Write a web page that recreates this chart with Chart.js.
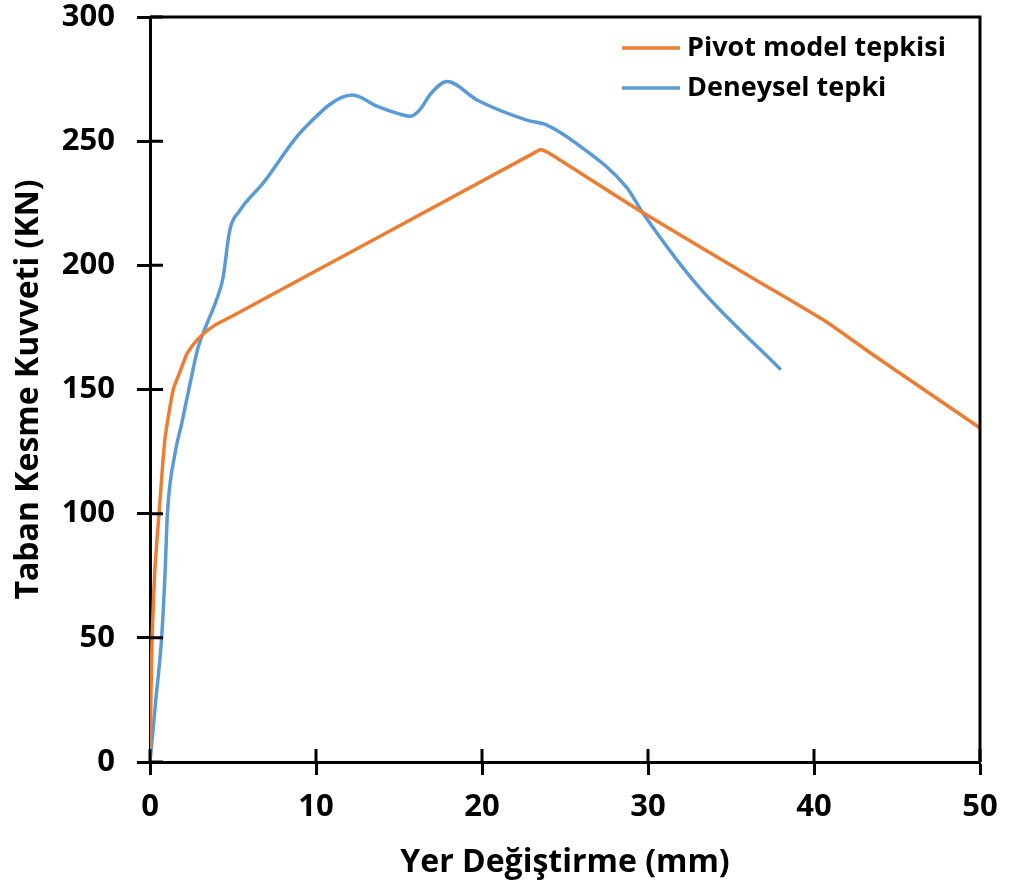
<!DOCTYPE html>
<html>
<head>
<meta charset="utf-8">
<script src="https://cdn.jsdelivr.net/npm/chart.js@4/dist/chart.umd.min.js"></script>
<style>
    html, body { margin: 0; padding: 0; background: #fff; }
    #wrap { width: 1009px; height: 895px; }
</style>
</head>
<body>
<div id="wrap"><canvas id="chart" width="1009" height="895"></canvas></div>
<script>
// Pivot model tepkisi
const pivotX = [0, 0.05, 0.13, 0.3, 0.6, 0.9, 1.4, 1.8, 2.2, 2.6, 3.0, 3.6, 4.2, 4.8, 23.2, 23.5, 23.8, 24.2, 29.5, 36.7, 40.8, 43.4, 50];
const pivotY = [0, 25, 50, 78, 105, 130, 150, 157, 164, 168, 171, 174.5, 177, 179, 245.5, 246.5, 246, 244.5, 222, 193.3, 177, 164.7, 134.5];

// Deneysel tepki
const testX = [0, 0.35, 0.7, 0.9, 1.05, 1.5, 1.9, 2.4, 2.9, 3.4, 4.0, 4.4, 4.8, 5.4, 6.8, 9.2, 12.2, 13.7, 15.0, 15.7, 16.3, 16.9, 17.9, 19.7, 22.7, 23.9, 25.7, 28.7, 29.7, 33.1, 38.0];
const testY = [0, 25, 50, 75, 100, 124, 136, 152, 167, 176, 186, 195, 214, 222, 233, 254.5, 268.6, 264, 261, 260, 263, 269, 274, 266.6, 258.5, 256.5, 249, 231.5, 221, 191, 158];

const xTicks = [0, 10, 20, 30, 40, 50];
const yTicks = [0, 50, 100, 150, 200, 250, 300];

const FONT = "'Open Sans', 'DejaVu Sans', sans-serif";

function toPoints(xs, ys) {
    return xs.map((x, i) => ({ x: x, y: ys[i] }));
}

// box around the plot + inner halves of the tick marks + legend
const framePlugin = {
    id: 'frame',
    afterDraw(chart) {
        const { ctx, chartArea: a, scales } = chart;
        ctx.save();
        ctx.strokeStyle = '#000';
        ctx.lineWidth = 3;
        ctx.beginPath();
        ctx.moveTo(a.left, a.top);
        ctx.lineTo(a.right, a.top);
        ctx.lineTo(a.right, a.bottom);
        ctx.stroke();

        ctx.beginPath();
        yTicks.forEach(v => {
            const y = scales.y.getPixelForValue(v);
            ctx.moveTo(a.left, y);
            ctx.lineTo(a.left + 13, y);
        });
        xTicks.forEach(v => {
            const x = scales.x.getPixelForValue(v);
            ctx.moveTo(x, a.bottom);
            ctx.lineTo(x, a.bottom - 13);
        });
        ctx.stroke();

        // legend
        ctx.font = "bold 27px " + FONT;
        ctx.textBaseline = 'middle';
        ctx.fillStyle = '#000';
        chart.data.datasets.forEach((ds, i) => {
            const y = a.top + 31 + i * 40;
            ctx.strokeStyle = ds.borderColor;
            ctx.lineWidth = 3.5;
            ctx.beginPath();
            ctx.moveTo(a.left + 472, y);
            ctx.lineTo(a.left + 530, y);
            ctx.stroke();
            ctx.fillText(ds.label, a.left + 537, y);
        });
        ctx.restore();
    }
};

new Chart(document.getElementById('chart'), {
    type: 'scatter',
    data: {
        datasets: [{
            label: 'Pivot model tepkisi',
            data: toPoints(pivotX, pivotY),
            showLine: true,
            borderColor: '#ED7D31',
            backgroundColor: '#ED7D31',
            borderWidth: 3.5,
            pointRadius: 0,
            tension: 0.2
        }, {
            label: 'Deneysel tepki',
            data: toPoints(testX, testY),
            showLine: true,
            borderColor: '#5B9BD5',
            backgroundColor: '#5B9BD5',
            borderWidth: 3.5,
            pointRadius: 0,
            cubicInterpolationMode: 'monotone'
        }]
    },
    options: {
        responsive: false,
        animation: false,
        layout: {
            padding: { top: 17, right: 29, left: 0, bottom: 0 }
        },
        plugins: {
            legend: { display: false },
            tooltip: { enabled: false }
        },
        scales: {
            x: {
                type: 'linear',
                min: 0,
                max: 50,
                afterBuildTicks: scale => {
                    scale.ticks = xTicks.map(v => ({ value: v }));
                },
                afterFit: scale => {
                    scale.height = 133;
                    scale.paddingLeft = 0;
                    scale.paddingRight = 0;
                },
                border: { display: true, color: '#000', width: 3 },
                grid: {
                    display: true,
                    drawOnChartArea: false,
                    drawTicks: true,
                    tickLength: 13,
                    tickWidth: 3,
                    tickColor: '#000'
                },
                ticks: {
                    color: '#000',
                    padding: 14,
                    maxRotation: 0,
                    font: { size: 31, weight: 'bold', family: FONT }
                },
                title: {
                    display: true,
                    text: 'Yer Değiştirme (mm)',
                    color: '#000',
                    padding: { top: 0, bottom: 13 },
                    font: { size: 32, weight: 'bold', family: FONT }
                }
            },
            y: {
                min: 0,
                max: 300,
                afterBuildTicks: scale => {
                    scale.ticks = yTicks.map(v => ({ value: v }));
                },
                afterFit: scale => {
                    scale.width = 150;
                    scale.paddingTop = 0;
                    scale.paddingBottom = 0;
                },
                border: { display: true, color: '#000', width: 3 },
                grid: {
                    display: true,
                    drawOnChartArea: false,
                    drawTicks: true,
                    tickLength: 13,
                    tickWidth: 3,
                    tickColor: '#000'
                },
                ticks: {
                    color: '#000',
                    padding: 22,
                    font: { size: 31, weight: 'bold', family: FONT }
                },
                title: {
                    display: true,
                    text: 'Taban Kesme Kuvveti (KN)',
                    color: '#000',
                    padding: { top: 10, bottom: 0 },
                    font: { size: 32, weight: 'bold', family: FONT }
                }
            }
        }
    },
    plugins: [framePlugin]
});
</script>
</body>
</html>
